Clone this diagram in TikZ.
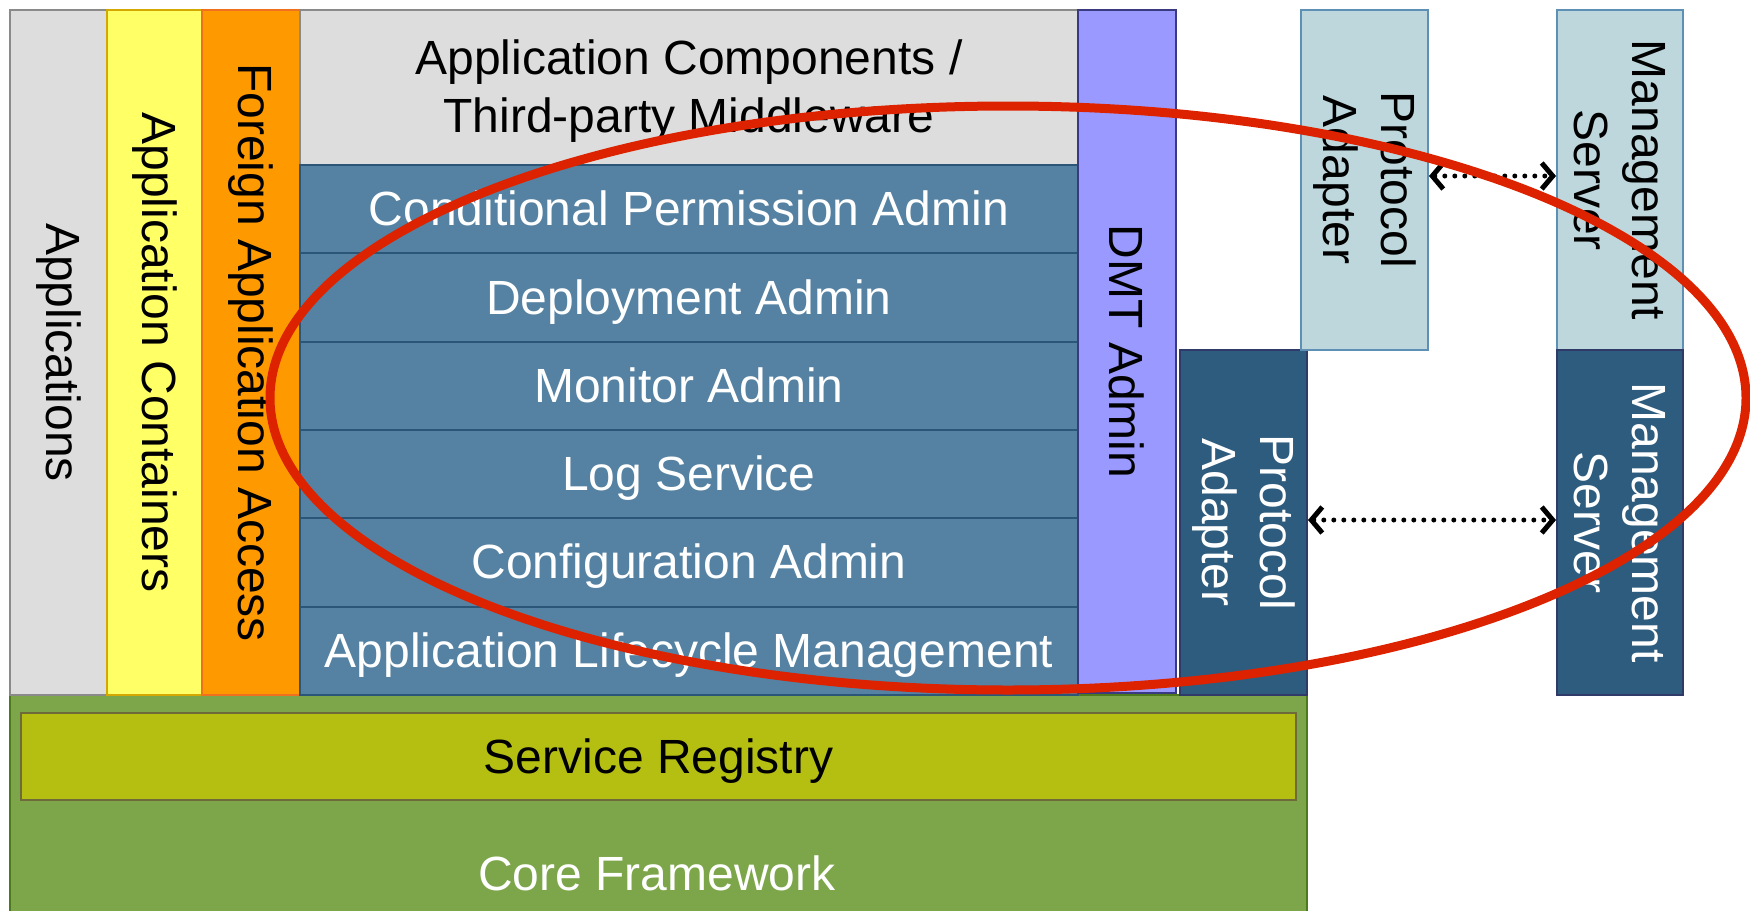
\documentclass[tikz,border=0pt]{standalone}
\usepackage{fontspec}
\setmainfont{Liberation Sans}
\usetikzlibrary{arrows.meta}
\definecolor{lgray}{HTML}{DDDDDD}
\definecolor{gborder}{HTML}{8A8A8A}
\definecolor{yel}{HTML}{FFFF66}
\definecolor{yelb}{HTML}{D4A800}
\definecolor{ora}{HTML}{FF9900}
\definecolor{orab}{HTML}{F07020}
\definecolor{blu}{HTML}{5582A2}
\definecolor{blub}{HTML}{2C5678}
\definecolor{lav}{HTML}{9999FF}
\definecolor{lavb}{HTML}{3A3A80}
\definecolor{lblue}{HTML}{BED7DC}
\definecolor{lblueb}{HTML}{5E8FB4}
\definecolor{dblue}{HTML}{2E5C7E}
\definecolor{dblueb}{HTML}{2F3A68}
\definecolor{grn}{HTML}{7DA64A}
\definecolor{grnb}{HTML}{4E7A1E}
\definecolor{olive}{HTML}{B5BF11}
\definecolor{oliveb}{HTML}{6E6A3A}
\definecolor{redring}{HTML}{DD2200}
\begin{document}
\begin{tikzpicture}[x=1pt,y=-1pt,
  font=\fontsize{48}{58}\selectfont,
  boxshape/.style={rectangle, inner sep=0pt, line width=2pt, anchor=north west},
  lbl/.style={inner sep=0pt, align=center},
  slbl/.style={inner sep=0pt, text height=43.4pt, text depth=10.2pt},
  vlbl/.style={inner sep=0pt, align=center, rotate=-90},
  dotarrow/.style={line width=5pt, dash pattern=on 0pt off 10pt, line cap=round,
     {Straight Barb[length=11pt,width=26pt,line width=5pt]}-{Straight Barb[length=11pt,width=26pt,line width=5pt]}}
]
\useasboundingbox (0,0) rectangle (1750,910);
\clip (0,0) rectangle (1750,910);

% green core framework and registry
\node[boxshape, fill=grn, draw=grnb, minimum width=1297pt, minimum height=230pt] (core) at (9,694) {};
\node[boxshape, fill=olive, draw=oliveb, minimum width=1275pt, minimum height=87pt] (reg) at (20,712) {};
\node[slbl] (regl) at (reg.center) {Service Registry};
\node[slbl, text=white] (corel) at (657,874) {Core Framework};

% vertical columns
\node[boxshape, fill=lgray, draw=gborder, minimum width=97pt, minimum height=685pt] (apps) at (9,9) {};
\node[vlbl] (appsl) at (apps.center) {Applications};
\node[boxshape, fill=yel, draw=yelb, minimum width=95pt, minimum height=685pt] (cont) at (106,9) {};
\node[vlbl] (contl) at (cont.center) {Application Containers};
\node[boxshape, fill=ora, draw=orab, minimum width=98pt, minimum height=685pt] (fore) at (201,9) {};
\node[vlbl] (forel) at (fore.center) {Foreign Application Access};

% application components
\node[boxshape, fill=lgray, draw=gborder, minimum width=778pt, minimum height=155pt] (comp) at (299,9) {};
\node[lbl] (compl) at ([yshift=-4pt]comp.center) {Application Components /\\Third-party Middleware};

% blue admin rows
\foreach \i/\t in {0/Conditional Permission Admin,1/Deployment Admin,2/Monitor Admin,3/Log Service,4/Configuration Admin,5/Application Lifecycle Management}{
  \node[boxshape, fill=blu, draw=blub, minimum width=778pt, minimum height=88.3pt] (row\i) at (299,164+88.3*\i) {};
  \node[slbl, text=white] (rowl\i) at (row\i.center) {\t};
}

% DMT admin
\node[boxshape, fill=lav, draw=lavb, minimum width=98pt, minimum height=683pt] (dmt) at (1077,9) {};
\node[vlbl] (dmtl) at (dmt.center) {DMT Admin};

% protocol adapters
\node[boxshape, fill=dblue, draw=dblueb, minimum width=127pt, minimum height=345pt] (pad) at (1179,349) {};
\node[vlbl, text=white] (padl) at (pad.center) {Protocol\\Adapter};
\node[boxshape, fill=lblue, draw=lblueb, minimum width=127pt, minimum height=340pt] (pal) at (1300,9) {};
\node[vlbl] (pall) at (pal.center) {Protocol\\Adapter};

% management servers
\node[boxshape, fill=lblue, draw=lblueb, minimum width=126pt, minimum height=340pt] (msl) at (1556,9) {};
\node[vlbl] (msll) at (msl.center) {Management\\Server};
\node[boxshape, fill=dblue, draw=dblueb, minimum width=126pt, minimum height=345pt] (msd) at (1556,349) {};
\node[vlbl, text=white] (msdl) at (msd.center) {Management\\Server};

% dotted arrows
\draw[dotarrow] (pal.east |- 0,176) -- (msl.west |- 0,176);
\draw[dotarrow] (pad.east |- 0,520) -- (msd.west |- 0,520);

% red ring
\draw[redring, line width=9pt] (1008,398) ellipse [x radius=738, y radius=292];
\end{tikzpicture}
\end{document}
